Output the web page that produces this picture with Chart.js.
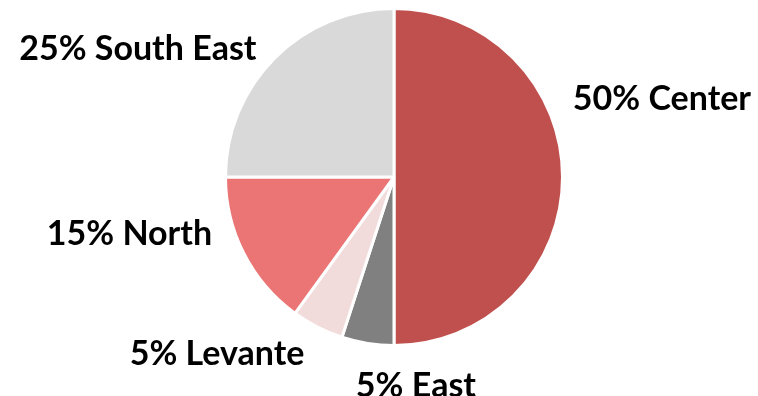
<!DOCTYPE html>
<html>
<head>
<meta charset="utf-8">
<script src="https://cdn.jsdelivr.net/npm/chart.js@4.4.1/dist/chart.umd.min.js"></script>
<style>
    html, body { margin: 0; padding: 0; background: #fff; }
    #wrap { width: 758px; height: 396px; }
</style>
</head>
<body>
<div id="wrap"><canvas id="chart-regions" width="758" height="396"></canvas></div>
<script>
const regions = ['Center', 'East', 'Levante', 'North', 'South East'];
const shares = [50, 5, 5, 15, 25];
const sliceColors = ['#C0504D', '#808080', '#F2DCDB', '#EB7474', '#D9D9D9'];

// label spots, in units of the pie radius from its centre (text centre)
const labelSpots = [
    [1.59, -0.46],
    [0.13, 1.24],
    [-1.05, 1.05],
    [-1.57, 0.34],
    [-1.52, -0.76]
];

const pieLabels = {
    id: 'pieLabels',
    afterDatasetsDraw(chart) {
        const { ctx } = chart;
        const arcs = chart.getDatasetMeta(0).data;
        if (!arcs.length) return;
        const cx = arcs[0].x;
        const cy = arcs[0].y;
        const r = arcs[0].outerRadius;
        ctx.save();
        ctx.font = 'bold 34px Lato, "Open Sans", sans-serif';
        ctx.fillStyle = '#000';
        ctx.textAlign = 'center';
        ctx.textBaseline = 'middle';
        arcs.forEach((arc, i) => {
            const [fx, fy] = labelSpots[i];
            ctx.fillText(`${shares[i]}% ${regions[i]}`, cx + fx * r, cy + fy * r);
        });
        ctx.restore();
    }
};

new Chart(document.getElementById('chart-regions'), {
    type: 'pie',
    data: {
        labels: regions,
        datasets: [{
            data: shares,
            backgroundColor: sliceColors,
            borderColor: '#FFFFFF',
            borderWidth: 3
        }]
    },
    options: {
        responsive: false,
        animation: false,
        layout: { padding: { top: 7, bottom: 49, left: 30, right: 0 } },
        plugins: {
            legend: { display: false },
            tooltip: { enabled: false }
        }
    },
    plugins: [pieLabels]
});
</script>
</body>
</html>
